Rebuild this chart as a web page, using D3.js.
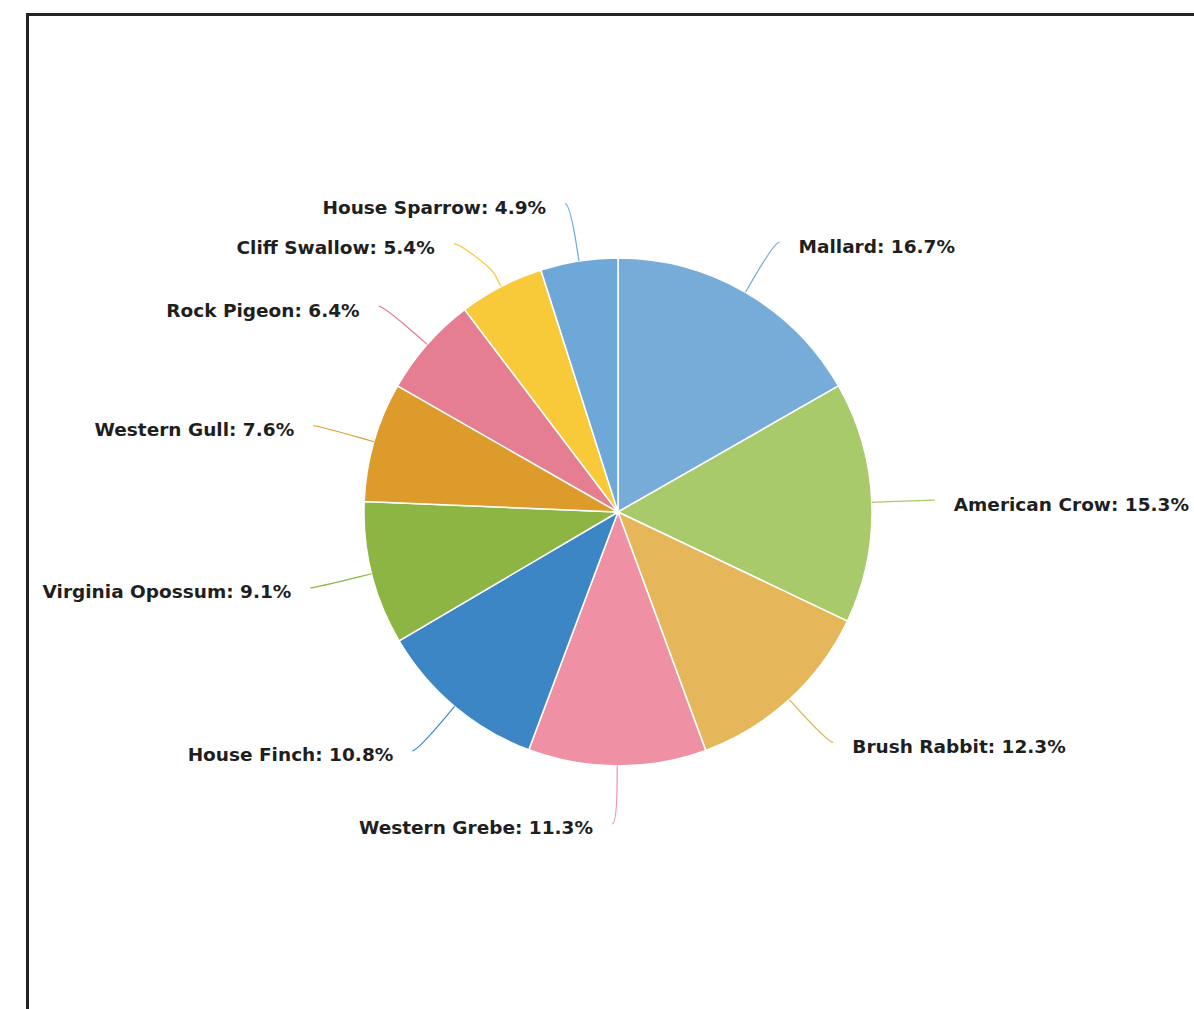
<!DOCTYPE html>
<html>
<head>
<meta charset="utf-8">
<script src="https://cdn.jsdelivr.net/npm/d3@7"></script>
<style>
  html, body { margin: 0; padding: 0; background: #fff; }
</style>
</head>
<body>
<div id="canvas"></div>
<script>
"use strict";

/* Data */
let species = ["Mallard", "American Crow", "Brush Rabbit", "Western Grebe", "House Finch",
  "Virginia Opossum", "Western Gull", "Rock Pigeon", "Cliff Swallow", "House Sparrow"];
let shares = [16.7, 15.3, 12.3, 11.3, 10.8, 9.1, 7.6, 6.4, 5.4, 4.9];
let sliceColors = ["#78acd8", "#a8ca6a", "#e5b75a", "#ef90a4", "#3d86c6",
  "#8db543", "#dc9b2a", "#e67e92", "#f8ca3a", "#6ea8d9"];

/* SVG setup */
let svgWidth = 1194;
let svgHeight = 1009;
let cx = 618;
let cy = 512;
let radius = 254;
let labelRadius = 312;
let minGap = 40;

let svg = d3.select("#canvas")
  .append("svg")
  .attr("width", svgWidth)
  .attr("height", svgHeight);

/* Border (only top and left edges fall inside the picture) */
svg.append("rect")
  .attr("x", 27.5)
  .attr("y", 14.5)
  .attr("width", svgWidth + 20)
  .attr("height", svgHeight + 20)
  .attr("fill", "none")
  .attr("stroke", "#242224")
  .attr("stroke-width", 3);

let table = species.map(function (name, i) {
  return { name: name, value: shares[i], color: sliceColors[i] };
});

let pie = d3.pie()
  .sort(null)
  .value(function (d) { return d.value; });

let arcs = pie(table);

let arc = d3.arc().innerRadius(0).outerRadius(radius);

let g = svg.append("g")
  .attr("transform", "translate(" + cx + "," + cy + ")");

/* Slices */
g.selectAll("path.slice")
  .data(arcs)
  .enter()
  .append("path")
  .attr("class", "slice")
  .attr("d", arc)
  .attr("fill", function (d) { return d.data.color; })
  .attr("stroke", "#fff")
  .attr("stroke-width", 1.5)
  .attr("stroke-linejoin", "round");

function pointAt(angle, r) {
  return [r * Math.sin(angle), -r * Math.cos(angle)];
}

/* Label positions, pushed apart when too close on one side */
let labels = arcs.map(function (d) {
  let mid = (d.startAngle + d.endAngle) / 2;
  let outer = pointAt(mid, labelRadius);
  return { d: d, mid: mid, left: Math.sin(mid) < 0.01, x: outer[0], y: outer[1] };
});

[true, false].forEach(function (side) {
  let group = labels.filter(function (l) { return l.left === side; })
    .sort(function (a, b) { return a.y - b.y; });
  for (let i = 1; i < group.length; i++) {
    if (group[i].y - group[i - 1].y < minGap) {
      group[i].y = group[i - 1].y + minGap;
      let dx = Math.sqrt(Math.max(0, labelRadius * labelRadius - group[i].y * group[i].y));
      group[i].x = side ? -dx : dx;
    }
  }
});

/* Connectors and labels */
for (let i = 0; i < labels.length; i++) {
  let l = labels[i];
  let touch = pointAt(l.mid, radius);
  let brk = pointAt(l.mid, radius + 12);
  let endX = l.x + (l.left ? -5 : 5);

  let path = d3.path();
  path.moveTo(endX, l.y);
  path.bezierCurveTo(l.x, l.y,
    2 * brk[0] - touch[0], 2 * brk[1] - touch[1],
    brk[0], brk[1]);
  path.lineTo(touch[0], touch[1]);

  g.append("path")
    .attr("d", path.toString())
    .attr("fill", "none")
    .attr("stroke", l.d.data.color)
    .attr("stroke-width", 1.2);

  g.append("text")
    .attr("x", l.x + (l.left ? -24 : 24))
    .attr("y", l.y + 4)
    .attr("dy", "0.35em")
    .attr("text-anchor", l.left ? "end" : "start")
    .style("font-family", "'DejaVu Sans', Verdana, sans-serif")
    .style("font-weight", "bold")
    .style("font-size", "18.5px")
    .attr("fill", "#1f1f1f")
    .text(l.d.data.name + ": " + l.d.data.value.toFixed(1) + "%");
}
</script>
</body>
</html>
